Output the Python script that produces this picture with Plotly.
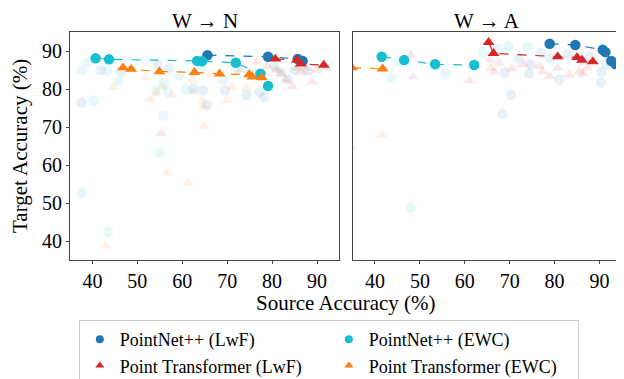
import plotly.graph_objects as go
from plotly.subplots import make_subplots

# ---------------- data ----------------
panel_titles = ["W \u2192 N", "W \u2192 A"]
series_names = ["PointNet++ (LwF)", "PointNet++ (EWC)",
                "Point Transformer (LwF)", "Point Transformer (EWC)"]
series_colors = ["#1f77b4", "#17becf", "#d62728", "#ff7f0e"]
series_symbols = ["circle", "circle", "triangle-up", "triangle-up"]

# W -> N : highlighted (front) points
wn_pn_lwf_x = [65.6, 79.1, 85.7, 86.8]
wn_pn_lwf_y = [88.9, 88.5, 87.9, 87.4]
wn_pn_ewc_x = [40.7, 43.7, 63.3, 64.4, 71.9, 77.4, 79.1]
wn_pn_ewc_y = [88.1, 87.8, 87.4, 87.3, 86.9, 84.0, 80.8]
wn_pt_lwf_x = [80.7, 85.5, 86.4, 91.5]
wn_pt_lwf_y = [87.9, 87.6, 86.6, 86.3]
wn_pt_ewc_x = [46.8, 48.6, 54.9, 62.7, 68.3, 74.9, 75.6, 77.7]
wn_pt_ewc_y = [85.6, 85.2, 84.6, 84.4, 84.0, 83.8, 83.2, 83.0]

# W -> N : all other runs (faded)
wn_pn_lwf_bg_x = [37.6, 41.8, 46.4, 54.5, 57.0, 62.5, 64.6, 65.5, 69.5, 74.3, 77.2, 78.2, 80.5, 82.0, 83.5, 85.0, 88.0]
wn_pn_lwf_bg_y = [76.4, 85.0, 84.6, 86.3, 85.4, 80.2, 79.7, 75.8, 79.6, 78.4, 79.3, 77.8, 86.0, 84.5, 82.5, 85.0, 84.8]
wn_pn_ewc_bg_x = [37.6, 38.9, 40.2, 43.3, 45.8, 37.6, 43.5, 54.9, 55.8, 54.1, 56.7, 55.9, 59.3, 60.7, 64.0, 69.1, 72.0, 75.0]
wn_pn_ewc_bg_y = [84.9, 87.0, 76.9, 84.8, 82.1, 52.6, 42.4, 63.2, 72.9, 79.7, 79.3, 81.5, 83.7, 79.9, 85.0, 82.4, 85.5, 84.0]
wn_pt_lwf_bg_x = [55.2, 73.0, 76.5, 79.0, 80.9, 82.0, 83.1, 84.5, 85.5, 86.5, 87.5, 89.0, 90.0, 92.0]
wn_pt_lwf_bg_y = [68.3, 85.0, 87.2, 86.0, 85.0, 84.0, 82.4, 80.6, 85.5, 84.5, 85.5, 81.9, 85.0, 85.5]
wn_pt_ewc_bg_x = [42.9, 44.6, 51.7, 52.8, 54.3, 55.5, 57.8, 56.7, 61.3, 64.9, 64.7, 64.4, 62.5, 62.4, 69.9, 71.1, 74.3, 66.0]
wn_pt_ewc_bg_y = [38.7, 80.4, 83.1, 77.3, 78.9, 80.5, 78.4, 58.0, 55.2, 70.3, 75.3, 76.9, 79.3, 82.4, 77.1, 80.4, 80.2, 83.5]

# W -> A : highlighted (front) points
wa_pn_lwf_x = [78.9, 84.6, 90.7, 91.3, 92.6, 93.5]
wa_pn_lwf_y = [91.9, 91.6, 90.3, 89.7, 87.4, 86.6]
wa_pn_ewc_x = [41.5, 46.5, 53.4, 62.1]
wa_pn_ewc_y = [88.5, 87.6, 86.5, 86.3]
wa_pt_lwf_x = [65.3, 66.4, 80.7, 85.0, 86.1, 88.5]
wa_pt_lwf_y = [92.3, 89.4, 88.5, 88.3, 87.6, 87.2]
wa_pt_ewc_x = [34.9, 41.7]
wa_pt_ewc_y = [85.6, 85.3]

# W -> A : all other runs (faded)
wa_pn_lwf_bg_x = [68.9, 70.3, 68.4, 72.0, 74.3, 74.6, 77.0, 79.0, 81.1, 83.0, 86.0, 88.0, 90.4, 90.4, 91.5]
wa_pn_lwf_bg_y = [84.4, 78.4, 73.4, 88.0, 84.1, 86.5, 89.5, 88.0, 82.5, 89.0, 87.5, 88.5, 81.7, 84.4, 86.5]
wa_pn_ewc_bg_x = [43.6, 45.2, 48.0, 55.7, 64.0, 67.5, 69.7, 74.0]
wa_pn_ewc_bg_y = [83.0, 87.1, 48.8, 84.1, 89.6, 90.5, 91.4, 91.1]
wa_pt_lwf_bg_x = [48.0, 48.4, 61.0, 65.5, 65.8, 66.5, 67.6, 70.5, 73.0, 76.5, 77.3, 78.9, 80.7, 83.2, 85.5, 86.3, 87.2]
wa_pt_lwf_bg_y = [88.9, 83.2, 82.2, 87.6, 85.4, 84.5, 86.8, 85.3, 86.5, 86.0, 84.6, 83.3, 85.5, 83.8, 84.6, 83.9, 85.5]
wa_pt_ewc_bg_x = [41.5, 35.0]
wa_pt_ewc_bg_y = [67.9, 64.4]

x_ticks = [40, 50, 60, 70, 80, 90]
y_ticks = [40, 50, 60, 70, 80, 90]
x_label = "Source Accuracy (%)"
y_label = "Target Accuracy (%)"

panels = [
    {
        "front": [(wn_pn_lwf_x, wn_pn_lwf_y), (wn_pn_ewc_x, wn_pn_ewc_y),
                  (wn_pt_lwf_x, wn_pt_lwf_y), (wn_pt_ewc_x, wn_pt_ewc_y)],
        "bg": [(wn_pn_lwf_bg_x, wn_pn_lwf_bg_y), (wn_pn_ewc_bg_x, wn_pn_ewc_bg_y),
               (wn_pt_lwf_bg_x, wn_pt_lwf_bg_y), (wn_pt_ewc_bg_x, wn_pt_ewc_bg_y)],
    },
    {
        "front": [(wa_pn_lwf_x, wa_pn_lwf_y), (wa_pn_ewc_x, wa_pn_ewc_y),
                  (wa_pt_lwf_x, wa_pt_lwf_y), (wa_pt_ewc_x, wa_pt_ewc_y)],
        "bg": [(wa_pn_lwf_bg_x, wa_pn_lwf_bg_y), (wa_pn_ewc_bg_x, wa_pn_ewc_bg_y),
               (wa_pt_lwf_bg_x, wa_pt_lwf_bg_y), (wa_pt_ewc_bg_x, wa_pt_ewc_bg_y)],
    },
]

FONT = "Liberation Serif"
MSIZE = [10.5, 10.5, 10.5, 10.5]

fig = make_subplots(rows=1, cols=2, shared_yaxes=True, horizontal_spacing=0.0236)

for p, panel in enumerate(panels):
    col = p + 1
    # faded background runs
    for s, (bx, by) in enumerate(panel["bg"]):
        fig.add_trace(go.Scatter(
            x=bx, y=by, mode="markers", showlegend=False, hoverinfo="skip",
            marker=dict(symbol=series_symbols[s], color=series_colors[s],
                        size=MSIZE[s], opacity=0.11, line=dict(width=0)),
        ), row=1, col=col)
    # dashed front lines
    for s, (fx, fy) in enumerate(panel["front"]):
        pts = sorted(zip(fx, fy))
        fig.add_trace(go.Scatter(
            x=[a for a, _ in pts], y=[b for _, b in pts], mode="lines",
            showlegend=False, hoverinfo="skip",
            line=dict(color=series_colors[s], width=1.2, dash="dash"),
        ), row=1, col=col)
    # highlighted front markers
    for s, (fx, fy) in enumerate(panel["front"]):
        fig.add_trace(go.Scatter(
            x=fx, y=fy, mode="markers", name=series_names[s],
            legendgroup=series_names[s], showlegend=False,
            marker=dict(symbol=series_symbols[s], color=series_colors[s],
                        size=MSIZE[s], line=dict(width=0)),
        ), row=1, col=col)

# legend entries (smaller symbols, like the reference legend)
for s in range(4):
    fig.add_trace(go.Scatter(
        x=[None], y=[None], mode="markers", name=series_names[s],
        legendgroup=series_names[s], showlegend=True,
        marker=dict(symbol=series_symbols[s], color=series_colors[s],
                    size=8, line=dict(width=0)),
    ), row=1, col=1)

axis_common = dict(
    range=[35, 95], showgrid=False, zeroline=False, showline=True,
    linecolor="#444", linewidth=1, mirror=True,
    tickfont=dict(family=FONT, size=20, color="black"),
)
for i in (1, 2):
    fig.update_xaxes(tickvals=x_ticks, ticks="outside", ticklen=3, tickcolor="#444",
                     row=1, col=i, **axis_common)
fig.update_yaxes(tickvals=y_ticks, ticks="outside", ticklen=3, tickcolor="#444",
                 row=1, col=1, **axis_common)
fig.update_yaxes(tickvals=y_ticks, ticks="", showticklabels=False,
                 row=1, col=2, **axis_common)

annotations = [
    dict(text=panel_titles[0], x=0.2441, y=1.0, xref="paper", yref="paper",
         xanchor="center", yanchor="bottom", yshift=-3, showarrow=False,
         font=dict(family=FONT, size=21, color="black")),
    dict(text=panel_titles[1], x=0.7559, y=1.0, xref="paper", yref="paper",
         xanchor="center", yanchor="bottom", yshift=-3, showarrow=False,
         font=dict(family=FONT, size=21, color="black")),
    dict(text=x_label, x=0.5, y=0, xref="paper", yref="paper",
         xanchor="center", yanchor="top", yshift=-29, showarrow=False,
         font=dict(family=FONT, size=21, color="black")),
    dict(text=y_label, x=0, y=0.5, xref="paper", yref="paper", textangle=-90,
         xanchor="right", yanchor="middle", xshift=-36, showarrow=False,
         font=dict(family=FONT, size=21, color="black")),
]

# The page body has an 8px margin, so the figure is drawn 8px smaller.
fig.update_layout(
    width=616, height=371,
    margin=dict(l=62, r=2, t=24, b=119, autoexpand=False),
    paper_bgcolor="white", plot_bgcolor="white",
    annotations=annotations,
    font=dict(family=FONT, color="black"),
    legend=dict(
        orientation="h", x=0.016, y=-0.263, xanchor="left", yanchor="top",
        entrywidth=204, entrywidthmode="pixels",
        bordercolor="#cccccc", borderwidth=1, bgcolor="white",
        font=dict(family=FONT, size=18, color="black"),
        traceorder="normal",
    ),
)

fig.write_html("out.html")
